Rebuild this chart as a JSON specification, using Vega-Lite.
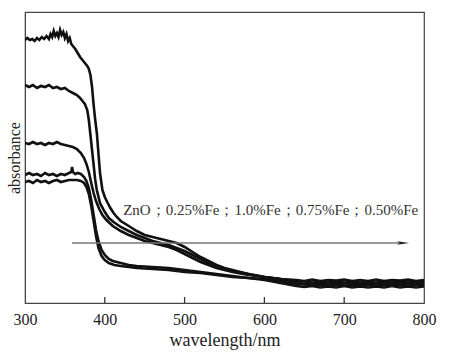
{
"$schema":"https://vega.github.io/schema/vega-lite/v6.json",
"width":399,"height":291,
"autosize":{"type":"none"},
"padding":{"left":25,"top":12,"right":29,"bottom":50},
"config":{"view":{"stroke":"#444","strokeWidth":1.2},"font":"Liberation Serif"},
"datasets":{
"spectra":[
{"s":"A","w":300,"a":263},{"s":"A","w":303,"a":265},{"s":"A","w":306,"a":263},{"s":"A","w":309,"a":264},{"s":"A","w":312,"a":262},{"s":"A","w":315,"a":265},{"s":"A","w":318,"a":263},{"s":"A","w":321,"a":266},{"s":"A","w":324,"a":264},{"s":"A","w":327,"a":267},{"s":"A","w":330,"a":264},{"s":"A","w":332,"a":269},{"s":"A","w":334,"a":266},{"s":"A","w":336,"a":272},{"s":"A","w":338,"a":267},{"s":"A","w":340,"a":270},{"s":"A","w":342,"a":266},{"s":"A","w":344,"a":273},{"s":"A","w":346,"a":268},{"s":"A","w":348,"a":271},{"s":"A","w":350,"a":265},{"s":"A","w":352,"a":269},{"s":"A","w":354,"a":262},{"s":"A","w":356,"a":265},{"s":"A","w":358,"a":259},{"s":"A","w":360,"a":257},{"s":"A","w":363,"a":254},{"s":"A","w":366,"a":250},{"s":"A","w":369,"a":246},{"s":"A","w":372,"a":243},{"s":"A","w":375,"a":240},{"s":"A","w":378,"a":237},{"s":"A","w":380,"a":234},{"s":"A","w":382,"a":228},{"s":"A","w":384,"a":216},{"s":"A","w":386,"a":198},{"s":"A","w":388,"a":183},{"s":"A","w":390,"a":170},{"s":"A","w":392,"a":150},{"s":"A","w":394,"a":130},{"s":"A","w":397,"a":113},{"s":"A","w":400,"a":106},{"s":"A","w":403,"a":101},{"s":"A","w":407,"a":95},{"s":"A","w":411,"a":90},{"s":"A","w":415,"a":86},{"s":"A","w":420,"a":82},{"s":"A","w":430,"a":77},{"s":"A","w":440,"a":72},{"s":"A","w":450,"a":68},{"s":"A","w":460,"a":66},{"s":"A","w":470,"a":64},{"s":"A","w":480,"a":62},{"s":"A","w":490,"a":60},{"s":"A","w":500,"a":56},{"s":"A","w":510,"a":51},{"s":"A","w":520,"a":46},{"s":"A","w":530,"a":42},{"s":"A","w":540,"a":38},{"s":"A","w":550,"a":35},{"s":"A","w":560,"a":33},{"s":"A","w":570,"a":31},{"s":"A","w":580,"a":29},{"s":"A","w":600,"a":26},{"s":"A","w":620,"a":24},{"s":"A","w":640,"a":23},{"s":"A","w":650,"a":22},{"s":"A","w":660,"a":23.5},{"s":"A","w":670,"a":22},{"s":"A","w":680,"a":23},{"s":"A","w":690,"a":22.5},{"s":"A","w":700,"a":23.5},{"s":"A","w":710,"a":22},{"s":"A","w":720,"a":23},{"s":"A","w":730,"a":22},{"s":"A","w":740,"a":23.5},{"s":"A","w":750,"a":22},{"s":"A","w":760,"a":23},{"s":"A","w":770,"a":22.5},{"s":"A","w":780,"a":23.5},{"s":"A","w":790,"a":22},{"s":"A","w":800,"a":23},
{"s":"B","w":300,"a":218},{"s":"B","w":305,"a":216},{"s":"B","w":310,"a":218},{"s":"B","w":315,"a":215},{"s":"B","w":320,"a":217},{"s":"B","w":325,"a":216},{"s":"B","w":330,"a":218},{"s":"B","w":335,"a":215},{"s":"B","w":340,"a":216},{"s":"B","w":345,"a":214},{"s":"B","w":350,"a":215},{"s":"B","w":355,"a":212},{"s":"B","w":360,"a":210},{"s":"B","w":365,"a":208},{"s":"B","w":369,"a":205},{"s":"B","w":372,"a":202},{"s":"B","w":375,"a":199},{"s":"B","w":378,"a":193},{"s":"B","w":380,"a":183},{"s":"B","w":382,"a":168},{"s":"B","w":384,"a":153},{"s":"B","w":386,"a":138},{"s":"B","w":388,"a":123},{"s":"B","w":390,"a":113},{"s":"B","w":394,"a":100},{"s":"B","w":400,"a":91},{"s":"B","w":405,"a":85},{"s":"B","w":411,"a":81},{"s":"B","w":420,"a":76},{"s":"B","w":430,"a":72},{"s":"B","w":440,"a":68},{"s":"B","w":450,"a":65},{"s":"B","w":460,"a":62},{"s":"B","w":470,"a":60},{"s":"B","w":480,"a":58},{"s":"B","w":490,"a":55},{"s":"B","w":500,"a":52},{"s":"B","w":510,"a":48},{"s":"B","w":520,"a":44},{"s":"B","w":530,"a":40},{"s":"B","w":540,"a":37},{"s":"B","w":550,"a":34},{"s":"B","w":560,"a":32},{"s":"B","w":580,"a":29},{"s":"B","w":600,"a":26},{"s":"B","w":620,"a":24},{"s":"B","w":640,"a":22},{"s":"B","w":650,"a":21.5},{"s":"B","w":660,"a":20.5},{"s":"B","w":670,"a":21.5},{"s":"B","w":680,"a":20.5},{"s":"B","w":690,"a":21.5},{"s":"B","w":700,"a":20.5},{"s":"B","w":710,"a":21.5},{"s":"B","w":720,"a":20.5},{"s":"B","w":730,"a":21},{"s":"B","w":740,"a":20.5},{"s":"B","w":750,"a":21.5},{"s":"B","w":760,"a":20.5},{"s":"B","w":770,"a":21.5},{"s":"B","w":780,"a":20.5},{"s":"B","w":790,"a":21.5},{"s":"B","w":800,"a":21},
{"s":"C","w":300,"a":160},{"s":"C","w":305,"a":159},{"s":"C","w":310,"a":161},{"s":"C","w":315,"a":159},{"s":"C","w":320,"a":160},{"s":"C","w":325,"a":158},{"s":"C","w":330,"a":160},{"s":"C","w":335,"a":159},{"s":"C","w":340,"a":161},{"s":"C","w":345,"a":159},{"s":"C","w":350,"a":158},{"s":"C","w":355,"a":157},{"s":"C","w":360,"a":156},{"s":"C","w":365,"a":154},{"s":"C","w":370,"a":150},{"s":"C","w":374,"a":145},{"s":"C","w":377,"a":139},{"s":"C","w":380,"a":131},{"s":"C","w":383,"a":120},{"s":"C","w":386,"a":110},{"s":"C","w":389,"a":102},{"s":"C","w":393,"a":94},{"s":"C","w":397,"a":88},{"s":"C","w":402,"a":83},{"s":"C","w":410,"a":77},{"s":"C","w":420,"a":72},{"s":"C","w":430,"a":68},{"s":"C","w":440,"a":65},{"s":"C","w":450,"a":62},{"s":"C","w":460,"a":60},{"s":"C","w":470,"a":58},{"s":"C","w":480,"a":56},{"s":"C","w":490,"a":53},{"s":"C","w":500,"a":49},{"s":"C","w":510,"a":45},{"s":"C","w":520,"a":41},{"s":"C","w":530,"a":38},{"s":"C","w":540,"a":35},{"s":"C","w":550,"a":33},{"s":"C","w":560,"a":31},{"s":"C","w":580,"a":28},{"s":"C","w":600,"a":26},{"s":"C","w":620,"a":24},{"s":"C","w":640,"a":21},{"s":"C","w":650,"a":19},{"s":"C","w":660,"a":20},{"s":"C","w":670,"a":19},{"s":"C","w":680,"a":20},{"s":"C","w":690,"a":19},{"s":"C","w":700,"a":20},{"s":"C","w":710,"a":19},{"s":"C","w":720,"a":19.5},{"s":"C","w":730,"a":19},{"s":"C","w":740,"a":20},{"s":"C","w":750,"a":19},{"s":"C","w":760,"a":20},{"s":"C","w":770,"a":19},{"s":"C","w":780,"a":20},{"s":"C","w":790,"a":19},{"s":"C","w":800,"a":19.5},
{"s":"D","w":300,"a":128},{"s":"D","w":305,"a":130},{"s":"D","w":310,"a":128},{"s":"D","w":315,"a":129},{"s":"D","w":320,"a":127},{"s":"D","w":325,"a":130},{"s":"D","w":330,"a":128},{"s":"D","w":335,"a":129},{"s":"D","w":340,"a":127},{"s":"D","w":345,"a":129},{"s":"D","w":350,"a":128},{"s":"D","w":355,"a":130},{"s":"D","w":358,"a":131},{"s":"D","w":359,"a":136},{"s":"D","w":360,"a":131},{"s":"D","w":363,"a":129},{"s":"D","w":366,"a":130},{"s":"D","w":370,"a":129},{"s":"D","w":374,"a":126},{"s":"D","w":377,"a":122},{"s":"D","w":380,"a":115},{"s":"D","w":383,"a":103},{"s":"D","w":386,"a":88},{"s":"D","w":389,"a":73},{"s":"D","w":392,"a":62},{"s":"D","w":396,"a":53},{"s":"D","w":400,"a":48},{"s":"D","w":405,"a":44},{"s":"D","w":410,"a":42},{"s":"D","w":420,"a":40},{"s":"D","w":430,"a":38},{"s":"D","w":440,"a":37},{"s":"D","w":460,"a":36},{"s":"D","w":480,"a":35},{"s":"D","w":500,"a":33},{"s":"D","w":520,"a":31},{"s":"D","w":540,"a":29},{"s":"D","w":560,"a":27},{"s":"D","w":580,"a":25},{"s":"D","w":600,"a":24},{"s":"D","w":620,"a":22},{"s":"D","w":640,"a":19},{"s":"D","w":650,"a":18.5},{"s":"D","w":660,"a":17.5},{"s":"D","w":670,"a":18.5},{"s":"D","w":680,"a":17.5},{"s":"D","w":690,"a":18.5},{"s":"D","w":700,"a":17.5},{"s":"D","w":710,"a":18},{"s":"D","w":720,"a":17.5},{"s":"D","w":730,"a":18.5},{"s":"D","w":740,"a":17.5},{"s":"D","w":750,"a":18.5},{"s":"D","w":760,"a":17.5},{"s":"D","w":770,"a":18.5},{"s":"D","w":780,"a":17.5},{"s":"D","w":790,"a":18.5},{"s":"D","w":800,"a":18},
{"s":"E","w":300,"a":121},{"s":"E","w":305,"a":122},{"s":"E","w":310,"a":120},{"s":"E","w":315,"a":123},{"s":"E","w":320,"a":121},{"s":"E","w":325,"a":122},{"s":"E","w":330,"a":120},{"s":"E","w":335,"a":122},{"s":"E","w":340,"a":123},{"s":"E","w":345,"a":121},{"s":"E","w":350,"a":122},{"s":"E","w":355,"a":123},{"s":"E","w":360,"a":123},{"s":"E","w":365,"a":123},{"s":"E","w":370,"a":122},{"s":"E","w":374,"a":120},{"s":"E","w":377,"a":116},{"s":"E","w":380,"a":109},{"s":"E","w":383,"a":97},{"s":"E","w":386,"a":82},{"s":"E","w":389,"a":67},{"s":"E","w":392,"a":55},{"s":"E","w":396,"a":47},{"s":"E","w":400,"a":43},{"s":"E","w":405,"a":40},{"s":"E","w":412,"a":38},{"s":"E","w":420,"a":37},{"s":"E","w":440,"a":35},{"s":"E","w":460,"a":34},{"s":"E","w":480,"a":33},{"s":"E","w":500,"a":31},{"s":"E","w":520,"a":30},{"s":"E","w":540,"a":28},{"s":"E","w":560,"a":26},{"s":"E","w":580,"a":25},{"s":"E","w":600,"a":23},{"s":"E","w":620,"a":20},{"s":"E","w":640,"a":17},{"s":"E","w":650,"a":16},{"s":"E","w":660,"a":17},{"s":"E","w":670,"a":15.5},{"s":"E","w":680,"a":16.5},{"s":"E","w":690,"a":15.5},{"s":"E","w":700,"a":17},{"s":"E","w":710,"a":15.5},{"s":"E","w":720,"a":16.5},{"s":"E","w":730,"a":15.5},{"s":"E","w":740,"a":16.5},{"s":"E","w":750,"a":15.5},{"s":"E","w":760,"a":17},{"s":"E","w":770,"a":15.5},{"s":"E","w":780,"a":16.5},{"s":"E","w":790,"a":15.5},{"s":"E","w":800,"a":16.5}
],
"ticks":[{"w":400,"lo":0,"hi":6},{"w":500,"lo":0,"hi":6},{"w":600,"lo":0,"hi":6},{"w":700,"lo":0,"hi":6}],
"arrow":[{"w":359,"a":60},{"w":772,"a":60}],
"head":[{"w":774,"a":60}],
"label":[{"w":423,"a":88,"t":"ZnO；0.25%Fe；1.0%Fe；0.75%Fe；0.50%Fe"}]
},
"layer":[
{"data":{"name":"spectra"},
 "mark":{"type":"line","color":"#111","strokeWidth":2.6,"clip":true},
 "encoding":{
  "x":{"field":"w","type":"quantitative","scale":{"domain":[300,800],"nice":false},
   "axis":{"values":[300,400,500,600,700,800],"title":"wavelength/nm","grid":false,"ticks":false,"labelPadding":8,"labelFontSize":16,"titleFontSize":18,"labelColor":"#222","titleColor":"#222","titleFontWeight":"normal","domainColor":"#444","labelFont":"Liberation Serif","titleFont":"Liberation Serif","titlePadding":4,"labelFlush":false}},
  "y":{"field":"a","type":"quantitative","scale":{"domain":[0,291],"nice":false},
   "axis":{"title":"absorbance","labels":false,"ticks":false,"grid":false,"domainColor":"#444","titleFontSize":16,"titleFont":"Liberation Serif","titleFontWeight":"normal","titleColor":"#222","titlePadding":3}},
  "detail":{"field":"s"}}},
{"data":{"name":"ticks"},
 "mark":{"type":"rule","color":"#333","strokeWidth":1.3},
 "encoding":{"x":{"field":"w","type":"quantitative"},"y":{"field":"lo","type":"quantitative"},"y2":{"field":"hi"}}},
{"data":{"name":"arrow"},
 "mark":{"type":"line","color":"#777","strokeWidth":1.5},
 "encoding":{"x":{"field":"w","type":"quantitative"},"y":{"field":"a","type":"quantitative"}}},
{"data":{"name":"head"},
 "mark":{"type":"point","shape":"M -1 -0.3 L 1 0 L -1 0.3 L -0.6 0 Z","filled":true,"color":"#222","size":144,"opacity":1},
 "encoding":{"x":{"field":"w","type":"quantitative"},"y":{"field":"a","type":"quantitative"}}},
{"data":{"name":"label"},
 "mark":{"type":"text","align":"left","baseline":"alphabetic","fontSize":15,"font":"Liberation Serif","color":"#333"},
 "encoding":{"x":{"field":"w","type":"quantitative"},"y":{"field":"a","type":"quantitative"},"text":{"field":"t"}}}
]
}
